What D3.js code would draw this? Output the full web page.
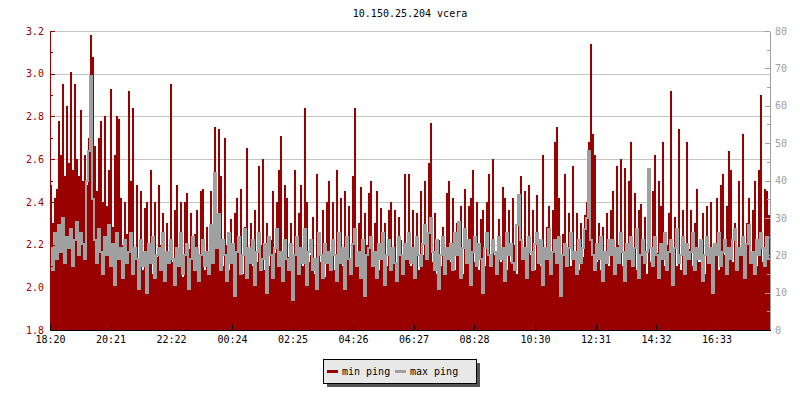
<!DOCTYPE html>
<html>
<head>
<meta charset="utf-8">
<script src="https://d3js.org/d3.v7.min.js"></script>
<style>
  body { margin: 0; background: #fff; }
  text { font-family: "DejaVu Sans Mono", monospace; font-size: 10px; }
</style>
</head>
<body>
<script>
// values, one sample every 4 minutes starting 18:20
var chartTitle = '10.150.25.204 vcera';
var stepMinutes = 4;
var tickLabels = ['18:20', '20:21', '22:22', '00:24', '02:25', '04:26', '06:27', '08:28', '10:30', '12:31', '14:32', '16:33'];
var leftTicks = [1.8, 2.0, 2.2, 2.4, 2.6, 2.8, 3.0, 3.2];
var leftMinor = [1.9, 2.1, 2.3, 2.5, 2.7, 2.9, 3.1];
var rightTicks = [0, 10, 20, 30, 40, 50, 60, 70, 80];
var rightMinor = [5, 15, 25, 35, 45, 55, 65, 75];
var legendNames = ['min ping', 'max ping'];

// min ping, left axis (ms)
var minPing = [
  2.48, 2.30, 2.42, 2.46, 2.78, 2.62, 2.95, 2.52, 2.85, 2.58, 3.01, 2.55, 2.95, 2.60, 2.52, 2.83, 2.50, 2.62, 2.48, 2.70,
  3.18, 3.08, 2.66, 2.45, 2.70, 2.78, 2.40, 2.80, 2.38, 2.55, 2.93, 2.28, 2.62, 2.80, 2.79, 2.42, 2.20, 2.40, 2.25, 2.92,
  2.50, 2.84, 2.18, 2.48, 2.12, 2.45, 2.08, 2.37, 2.40, 2.15, 2.55, 2.06, 2.40, 2.14, 2.48, 2.20, 2.35, 2.05, 2.30, 2.12,
  2.95, 2.12, 2.36, 2.48, 2.10, 2.40, 2.05, 2.40, 2.44, 2.18, 2.35, 2.15, 2.25, 2.36, 2.10, 2.45, 2.46, 2.08, 2.28, 2.14,
  2.45, 2.12, 2.75, 2.18, 2.74, 2.52, 2.10, 2.70, 2.20, 2.08, 2.32, 2.14, 2.35, 2.42, 2.16, 2.46, 2.06, 2.28, 2.65, 2.15,
  2.30, 2.10, 2.36, 2.12, 2.57, 2.20, 2.60, 2.08, 2.30, 2.10, 2.22, 2.45, 2.16, 2.40, 2.55, 2.71, 2.12, 2.48, 2.42, 2.14,
  2.30, 2.08, 2.55, 2.15, 2.35, 2.48, 2.10, 2.84, 2.40, 2.12, 2.15, 2.33, 2.06, 2.53, 2.18, 2.12, 2.36, 2.05, 2.40, 2.50,
  2.15, 2.40, 2.08, 2.55, 2.15, 2.42, 2.10, 2.45, 2.20, 2.38, 2.12, 2.52, 2.84, 2.10, 2.30, 2.47, 2.06, 2.35, 2.20, 2.44,
  2.50, 2.14, 2.30, 2.45, 2.08, 2.37, 2.15, 2.30, 2.10, 2.36, 2.40, 2.12, 2.36, 2.06, 2.33, 2.22, 2.10, 2.53, 2.16, 2.53,
  2.10, 2.36, 2.18, 2.35, 2.08, 2.45, 2.15, 2.50, 2.20, 2.58, 2.77, 2.12, 2.35, 2.06, 2.22, 2.10, 2.28, 2.14, 2.44, 2.50,
  2.12, 2.42, 2.08, 2.30, 2.18, 2.38, 2.06, 2.46, 2.15, 2.38, 2.42, 2.55, 2.12, 2.40, 2.08, 2.32, 2.36, 2.10, 2.40, 2.53,
  2.10, 2.60, 2.15, 2.06, 2.32, 2.12, 2.47, 2.42, 2.08, 2.36, 2.12, 2.42, 2.20, 2.06, 2.40, 2.52, 2.14, 2.45, 2.12, 2.48,
  2.15, 2.36, 2.08, 2.43, 2.18, 2.10, 2.62, 2.16, 2.28, 2.38, 2.06, 2.36, 2.68, 2.75, 2.42, 2.12, 2.25, 2.53, 2.14, 2.35,
  2.10, 2.57, 2.16, 2.35, 2.08, 2.30, 2.14, 2.34, 2.40, 2.68, 3.14, 2.72, 2.62, 2.12, 2.30, 2.08, 2.28, 2.15, 2.35, 2.10,
  2.36, 2.45, 2.12, 2.57, 2.20, 2.60, 2.10, 2.56, 2.14, 2.50, 2.68, 2.16, 2.44, 2.08, 2.36, 2.39, 2.15, 2.33, 2.06, 2.36,
  2.12, 2.45, 2.62, 2.16, 2.50, 2.38, 2.68, 2.10, 2.20, 2.35, 2.92, 2.14, 2.33, 2.10, 2.74, 2.08, 2.36, 2.14, 2.68, 2.18,
  2.36, 2.10, 2.30, 2.46, 2.12, 2.12, 2.35, 2.06, 2.38, 2.14, 2.40, 2.10, 2.20, 2.42, 2.08, 2.48, 2.53, 2.15, 2.38, 2.64,
  2.55, 2.12, 2.30, 2.08, 2.50, 2.16, 2.72, 2.10, 2.30, 2.42, 2.14, 2.36, 2.50, 2.10, 2.55, 2.90, 2.12, 2.46, 2.45, 2.34
];

// max ping, right axis (ms)
var maxPing = [
  22, 16, 26, 19, 28, 21, 30, 18, 25, 22, 27, 17, 24, 29, 20, 26, 23, 19, 40, 48,
  68, 35, 24, 18, 27, 21, 15, 25, 20, 28, 17, 23, 12, 26, 19, 22, 14, 24, 18, 21,
  26, 15, 22, 19, 11, 24, 17, 21, 10, 23, 18, 25, 14, 20, 22, 16, 26, 13, 21, 18,
  24, 19, 12, 22, 17, 26, 15, 20, 23, 11, 19, 25, 16, 22, 13, 20, 24, 17, 21, 15,
  28, 18, 42, 22, 31, 16, 24, 20, 13, 26, 18, 23, 9, 21, 25, 15, 20, 27, 14, 22,
  18, 24, 12, 21, 26, 16, 19, 23, 10, 25, 20, 14, 22, 27, 17, 21, 13, 24, 19, 16,
  23, 8, 20, 25, 15, 22, 18, 27, 12, 21, 24, 16, 19, 11, 26, 20, 14, 23, 18, 21,
  16, 24, 20, 13, 26, 18, 22, 11, 25, 19, 15, 23, 27, 17, 21, 14, 24, 9, 20, 22,
  25, 17, 21, 14, 23, 19, 26, 12, 20, 24, 16, 22, 18, 13, 25, 20, 15, 23, 19, 26,
  18, 22, 14, 25, 20, 17, 23, 28, 19, 26, 30, 21, 16, 24, 11, 20, 25, 15, 22, 19,
  23, 16, 26, 20, 29, 14, 22, 27, 18, 24, 12, 21, 25, 17, 23, 19, 10, 22, 26, 20,
  17, 24, 21, 15, 25, 19, 22, 13, 26, 20, 23, 18, 16, 28, 36, 24, 19, 22, 14, 25,
  21, 16, 23, 26, 18, 24, 12, 22, 19, 27, 15, 21, 24, 18, 25, 9, 20, 23, 17, 22,
  26, 19, 21, 15, 24, 18, 22, 27, 30, 48, 24, 20, 16, 23, 19, 25, 13, 21, 18, 24,
  20, 24, 15, 22, 18, 26, 21, 13, 23, 19, 25, 17, 22, 27, 14, 20, 24, 18, 21, 43,
  22, 17, 25, 20, 14, 23, 19, 26, 16, 21, 24, 12, 22, 27, 18, 20, 25, 15, 23, 19,
  21, 26, 16, 22, 19, 24, 13, 20, 25, 18, 22, 10, 23, 20, 26, 17, 21, 24, 15, 22,
  19, 24, 27, 16, 22, 20, 25, 14, 23, 28, 18, 21, 15, 24, 20, 26, 22, 17, 25, 19
];

var RED = '#990000', GREY = '#a0a0a0', GRID = '#c4c4c4';
var W = 800, H = 400;
var pLeft = 50, pRight = 770, pTop = 31, pBottom = 330;

var start = new Date(2020, 0, 1, 18, 20);
var end = d3.timeMinute.offset(start, minPing.length * stepMinutes);
var times = minPing.map(function(d, i){ return d3.timeMinute.offset(start, i * stepMinutes); });

// tick labels to dates, rolling over midnight
var tickDates = [];
var day = 0, prev = -1;
tickLabels.forEach(function(lbl){
    var p = lbl.split(':'), m = +p[0] * 60 + +p[1];
    if (m < prev) day++;
    prev = m;
    tickDates.push(new Date(2020, 0, 1 + day, +p[0], +p[1]));
});

var x = d3.scaleTime().domain([start, end]).range([pLeft, pRight]);
var yL = d3.scaleLinear().domain([1.8, 3.2]).range([pBottom, pTop]);
var yR = d3.scaleLinear().domain([0, 80]).range([pBottom, pTop]);

var svg = d3.select('body').append('svg')
    .attr('width', W)
    .attr('height', H);

svg.append('rect').attr('width', W).attr('height', H).style('fill', '#fff');

svg.append('text')
    .attr('x', (pLeft + pRight) / 2)
    .attr('y', 17)
    .attr('text-anchor', 'middle')
    .style('fill', '#000')
    .text(chartTitle);

// grid
svg.append('g')
    .attr('transform', 'translate(' + pLeft + ',0)')
    .call(d3.axisLeft(yL).tickValues(leftTicks.slice(1)).tickSize(-(pRight - pLeft)).tickFormat(''))
    .call(function(g){
        g.select('.domain').remove();
        g.selectAll('line').attr('stroke', GRID).attr('shape-rendering', 'crispEdges');
    });

svg.append('clipPath').attr('id', 'clip')
    .append('rect').attr('x', pLeft).attr('y', pTop).attr('width', pRight - pLeft).attr('height', pBottom - pTop);
var plot = svg.append('g').attr('clip-path', 'url(#clip)');

// min ping as filled steps
plot.selectAll('.minbar')
    .data(minPing)
    .enter()
    .append('rect')
    .attr('class', 'minbar')
    .attr('x', function(d, i){ return x(times[i]); })
    .attr('width', function(d, i){ return x(d3.timeMinute.offset(times[i], stepMinutes)) - x(times[i]); })
    .attr('y', function(d){ return yL(d); })
    .attr('height', function(d){ return pBottom - yL(d); })
    .attr('shape-rendering', 'crispEdges')
    .style('fill', RED);

// max ping as a step line
var maxPts = maxPing.map(function(d, i){ return [times[i], d]; });
maxPts.push([end, maxPing[maxPing.length - 1]]);
var line = d3.line()
    .x(function(d){ return x(d[0]); })
    .y(function(d){ return yR(d[1]); })
    .curve(d3.curveStepAfter);
plot.append('path')
    .datum(maxPts)
    .attr('d', line)
    .attr('fill', 'none')
    .attr('stroke', GREY)
    .attr('stroke-width', 2)
    .attr('shape-rendering', 'crispEdges');

function styleAxis(g, col){
    g.selectAll('line, path').attr('stroke', col).attr('shape-rendering', 'crispEdges');
    g.selectAll('text').style('fill', col).style('font-family', '"DejaVu Sans Mono", monospace').style('font-size', '10px');
}

// left axis
svg.append('g')
    .attr('transform', 'translate(' + pLeft + ',0)')
    .call(d3.axisLeft(yL).tickValues(leftMinor).tickSize(-3).tickSizeOuter(0).tickFormat(''))
    .call(styleAxis, RED);
svg.append('g')
    .attr('transform', 'translate(' + pLeft + ',0)')
    .call(d3.axisLeft(yL).tickValues(leftTicks).tickSize(-5).tickSizeOuter(0).tickPadding(6).tickFormat(d3.format('.1f')))
    .call(styleAxis, RED);

// right axis
svg.append('g')
    .attr('transform', 'translate(' + pRight + ',0)')
    .call(d3.axisRight(yR).tickValues(rightMinor).tickSize(-3).tickSizeOuter(0).tickFormat(''))
    .call(styleAxis, GREY);
svg.append('g')
    .attr('transform', 'translate(' + pRight + ',0)')
    .call(d3.axisRight(yR).tickValues(rightTicks).tickSize(-5).tickSizeOuter(0).tickPadding(5))
    .call(styleAxis, GREY);

// time axis
svg.append('g')
    .attr('transform', 'translate(0,' + pBottom + ')')
    .call(d3.axisBottom(x).tickValues(tickDates).tickSize(-5).tickSizeOuter(0).tickPadding(6).tickFormat(d3.timeFormat('%H:%M')))
    .call(styleAxis, '#000');

// legend
var lg = svg.append('g').attr('transform', 'translate(323,359)');
lg.append('rect').attr('x', 4).attr('y', 4).attr('width', 153).attr('height', 24).style('fill', '#555');
lg.append('rect').attr('x', 0.5).attr('y', 0.5).attr('width', 153).attr('height', 24)
    .style('fill', '#e8e8e8').style('stroke', '#000');
var items = [[RED, 4, 19], [GREY, 72, 87]];
items.forEach(function(it, k){
    lg.append('line').attr('x1', it[1]).attr('x2', it[1] + 11).attr('y1', 12.5).attr('y2', 12.5)
        .attr('stroke', it[0]).attr('stroke-width', 3);
    lg.append('text').attr('x', it[2]).attr('y', 16).style('fill', '#000').text(legendNames[k]);
});
</script>
</body>
</html>
